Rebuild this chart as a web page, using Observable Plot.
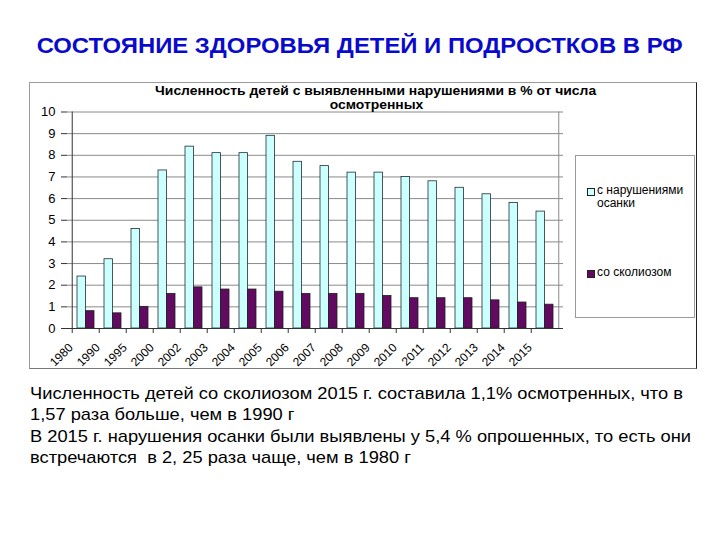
<!DOCTYPE html>
<html>
<head>
<meta charset="utf-8">
<script src="https://cdn.jsdelivr.net/npm/d3@7"></script>
<script src="https://cdn.jsdelivr.net/npm/@observablehq/plot@0.6"></script>
<style>
  html, body { margin: 0; padding: 0; background: #fff; }
  body { width: 720px; height: 540px; position: relative; overflow: hidden; font-family: "Liberation Sans", Arial, sans-serif; }
  .abs { position: absolute; white-space: nowrap; }
  .fit { display: inline-block; transform-origin: 0 0; white-space: pre; }
  #title { left: 0; top: 35px; width: 720px; text-align: center; font-weight: bold; font-size: 22px; line-height: 22px; color: #0a0acc; }
  #title .fit { transform-origin: 50% 0; }
  #frame { left: 29px; top: 82px; width: 666px; height: 285px; border: 1px solid #9a9a9a; border-right-color: #222; border-bottom-color: #777; }
  #chart { position: absolute; left: 29px; top: 82px; }
  #ctitle { left: 176px; width: 400px; text-align: center; font-weight: bold; font-size: 12px; line-height: 14px; top: 84px; color: #000; }
  #ctitle .fit { transform-origin: 50% 0; }
  #legend { left: 575px; top: 155px; width: 118px; height: 161px; border: 1px solid #9a9a9a; background: #fff; }
  .sw { position: absolute; width: 6px; height: 6px; border: 1px solid #222; }
  .lt { position: absolute; font-size: 12px; line-height: 13px; color: #000; white-space: nowrap; }
  #body { left: 30px; top: 383px; font-size: 17px; line-height: 21.3px; color: #000; }
</style>
</head>
<body>
<div id="title" class="abs"><span class="fit">СОСТОЯНИЕ ЗДОРОВЬЯ ДЕТЕЙ И ПОДРОСТКОВ В РФ</span></div>
<div id="frame" class="abs"></div>
<div id="chart"></div>
<div id="ctitle" class="abs"><span class="fit" id="ct1">Численность детей с выявленными нарушениями в % от числа</span><br><span class="fit" id="ct2">осмотренных</span></div>
<div id="legend" class="abs"></div>
<div id="body" class="abs"></div>
<script>
// ---- data ----
const years = ["1980","1990","1995","2000","2002","2003","2004","2005","2006","2007","2008","2009","2010","2011","2012","2013","2014","2015"];
const posture =   [2.4, 3.2, 4.6, 7.3, 8.4, 8.1, 8.1, 8.9, 7.7, 7.5, 7.2, 7.2, 7.0, 6.8, 6.5, 6.2, 5.8, 5.4];
const scoliosis = [0.8, 0.7, 1.0, 1.6, 1.9, 1.8, 1.8, 1.7, 1.6, 1.6, 1.6, 1.5, 1.4, 1.4, 1.4, 1.3, 1.2, 1.1];
const seriesNames = ["с нарушениями\nосанки", "со сколиозом"];
const seriesColors = ["#ccffff", "#620a62"];
const yTicks = [0,1,2,3,4,5,6,7,8,9,10];
const bodyLines = [
  "Численность детей со сколиозом 2015 г. составила 1,1% осмотренных, что в",
  "1,57 раза больше, чем в 1990 г",
  "В 2015 г. нарушения осанки были выявлены у 5,4 % опрошенных, то есть они",
  "встречаются  в 2, 25 раза чаще, чем в 1980 г"
];

const rows = years.map((y, i) => ({year: y, posture: posture[i], scoliosis: scoliosis[i]}));

// ---- layout ----
const W = 667, H = 286, mL = 38, mR = 133, mT = 29.5, mB = 40;
const step = (W - mL - mR) / years.length;
const pIn = 0.38, pOut = pIn / 2;
const half = step * (1 - pIn) / 2;

const chart = Plot.plot({
  width: W, height: H,
  marginLeft: mL, marginRight: mR, marginTop: mT, marginBottom: mB,
  style: {fontFamily: "'Liberation Sans', Arial, sans-serif", fontSize: "13px", color: "#000", background: "transparent", overflow: "visible"},
  x: {type: "band", domain: years, paddingInner: pIn, paddingOuter: pOut, axis: null},
  y: {domain: [0, 10], axis: null},
  marks: [
    Plot.gridY(yTicks, {stroke: "#8a8a8a", strokeOpacity: 1}),
    Plot.ruleX([years[years.length - 1]], {dx: step / 2, stroke: "#8a8a8a"}),
    Plot.barY(rows, {x: "year", y: "posture", fill: seriesColors[0], stroke: "#1f2f2f", strokeWidth: 0.8, insetRight: half}),
    Plot.barY(rows, {x: "year", y: "scoliosis", fill: seriesColors[1], stroke: "#1f1f1f", strokeWidth: 0.8, insetLeft: half}),
    Plot.ruleY([0], {stroke: "#333"}),
    Plot.ruleX([years[0]], {dx: -step / 2, stroke: "#333"}),
    Plot.axisY({ticks: yTicks, tickSize: 6, tickPadding: 6, fontSize: 13, stroke: "#333", label: null}),
    Plot.axisX({tickSize: 5, tickFormat: () => "", dx: -step / 2, stroke: "#333", label: null}),
    Plot.axisX({tickSize: 0, tickRotate: -45, tickPadding: 8, dx: -15, dy: 9, fontSize: 12, label: null})
  ]
});
document.getElementById("chart").appendChild(chart);

// legend
const legend = document.getElementById("legend");
const legendPos = [{sy: 32, ty: 28}, {sy: 114, ty: 110}];
seriesNames.forEach((name, i) => {
  const sw = document.createElement("div");
  sw.className = "sw";
  sw.style.left = "11px"; sw.style.top = legendPos[i].sy + "px";
  sw.style.background = seriesColors[i];
  legend.appendChild(sw);
  const t = document.createElement("div");
  t.className = "lt";
  t.style.left = "21px"; t.style.top = legendPos[i].ty + "px";
  t.innerHTML = name.split("\n").join("<br>");
  legend.appendChild(t);
});

// body text
const body = document.getElementById("body");
bodyLines.forEach((l, i) => {
  const s = document.createElement("span");
  s.className = "fit";
  s.textContent = l;
  body.appendChild(s);
  if (i < bodyLines.length - 1) body.appendChild(document.createElement("br"));
});

// fit text widths to reference widths
function fit(el, target) {
  const w = el.getBoundingClientRect().width;
  if (w > 0) el.style.transform = `scaleX(${target / w})`;
  return target / w;
}
fit(document.querySelector("#title .fit"), 646);
fit(document.getElementById("ct1"), 441);
document.getElementById("ct2").style.transform = document.getElementById("ct1").style.transform;
const bspans = body.querySelectorAll(".fit");
const k = fit(bspans[0], 653);
bspans.forEach(s => s.style.transform = `scaleX(${k})`);
</script>
</body>
</html>
